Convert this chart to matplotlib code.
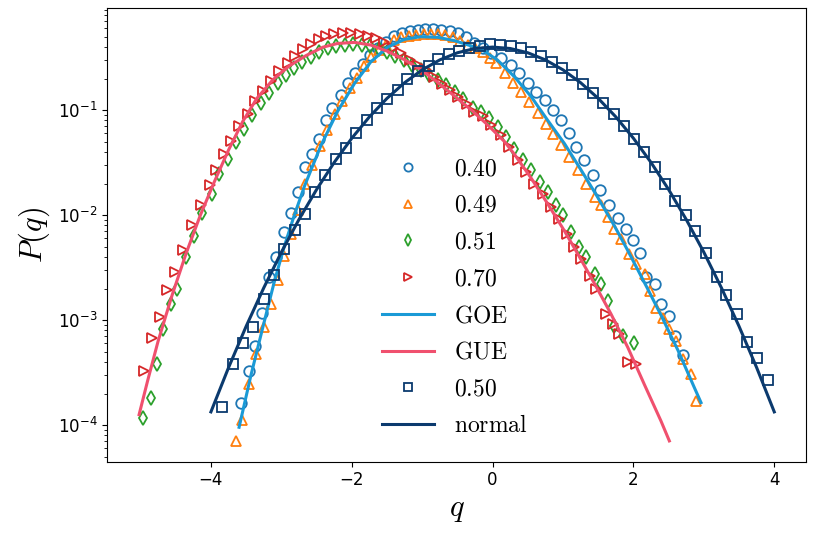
import matplotlib.pyplot as plt

# data points
circ_q = [-3.57, -3.46, -3.37, -3.27, -3.18, -3.08, -2.96, -2.86, -2.76, -2.66,
          -2.57, -2.47, -2.37, -2.28, -2.15, -2.06, -1.95, -1.84, -1.74, -1.63,
          -1.51, -1.40, -1.29, -1.18, -1.06, -0.96, -0.85, -0.73, -0.61, -0.49,
          -0.38, -0.26, -0.14, -0.02, 0.12, 0.26, 0.38, 0.50, 0.62, 0.74,
          0.86, 0.97, 1.08, 1.19, 1.30, 1.42, 1.53, 1.66, 1.78, 1.89,
          2.00, 2.09, 2.18, 2.30, 2.39, 2.50, 2.59, 2.70]
circ_p = [1.64e-4, 3.29e-4, 5.7e-4, 1.16e-3, 2.6e-3, 3.97e-3, 6.9e-3, 1.05e-2, 1.66e-2, 2.88e-2,
          3.85e-2, 5.37e-2, 8.0e-2, 0.104, 0.139, 0.18, 0.224, 0.275, 0.335, 0.389,
          0.449, 0.509, 0.547, 0.565, 0.58, 0.592, 0.594, 0.585, 0.57, 0.54,
          0.494, 0.44, 0.389, 0.348, 0.312, 0.269, 0.224, 0.18, 0.150, 0.125,
          0.10, 0.080, 0.060, 0.0447, 0.0333, 0.0239, 0.0172, 0.0124, 9.5e-3, 7.4e-3,
          5.8e-3, 4.4e-3, 2.6e-3, 2.2e-3, 1.43e-3, 1.1e-3, 7.1e-4, 4.7e-4]

tri_q = [-3.64, -3.56, -3.46, -3.36, -3.24, -3.15, -3.05, -2.96, -2.86, -2.77,
         -2.66, -2.56, -2.45, -2.35, -2.24, -2.14, -2.03, -1.93, -1.82, -1.72,
         -1.61, -1.51, -1.40, -1.30, -1.19, -1.09, -0.98, -0.88, -0.77, -0.67,
         -0.56, -0.46, -0.35, -0.25, -0.14, -0.04, 0.05, 0.17, 0.29, 0.41,
         0.52, 0.64, 0.76, 0.86, 0.97, 1.09, 1.21, 1.33, 1.45, 1.54,
         1.64, 1.73, 1.83, 1.94, 2.04, 2.16, 2.23, 2.32, 2.42, 2.51,
         2.61, 2.70, 2.82, 2.89]
tri_p = [7.05e-5, 1.11e-4, 2.48e-4, 4.74e-4, 8.65e-4, 1.43e-3, 2.4e-3, 4.04e-3, 6.64e-3, 1.11e-2,
         0.020, 0.030, 0.0457, 0.0646, 0.0912, 0.123, 0.162, 0.204, 0.263, 0.324,
         0.372, 0.417, 0.462, 0.495, 0.513, 0.525, 0.531, 0.535, 0.531, 0.519,
         0.495, 0.457, 0.422, 0.389, 0.359, 0.316, 0.279, 0.224, 0.18, 0.150,
         0.120, 0.0933, 0.0746, 0.0598, 0.0463, 0.0358, 0.0267, 0.020, 0.0149, 0.0124,
         9.55e-3, 7.41e-3, 5.94e-3, 4.27e-3, 3.44e-3, 2.75e-3, 1.9e-3, 1.32e-3, 1.06e-3, 8.2e-4,
         6.4e-4, 4.27e-4, 3.05e-4, 1.7e-4]

dia_q = [-4.96, -4.85, -4.77, -4.68, -4.57, -4.48, -4.36, -4.24, -4.12, -3.99,
         -3.88, -3.76, -3.64, -3.53, -3.41, -3.29, -3.17, -3.05, -2.93, -2.82,
         -2.70, -2.58, -2.46, -2.34, -2.22, -2.10, -1.98, -1.86, -1.74, -1.62,
         -1.50, -1.38, -1.26, -1.14, -1.02, -0.90, -0.78, -0.66, -0.54, -0.42,
         -0.28, -0.16, -0.05, 0.07, 0.19, 0.31, 0.43, 0.55, 0.67, 0.78,
         0.90, 1.00, 1.12, 1.23, 1.33, 1.45, 1.54, 1.64, 1.73, 1.85,
         2.01]
dia_p = [1.16e-4, 1.82e-4, 3.8e-4, 8.2e-4, 1.43e-3, 2.0e-3, 3.98e-3, 6.3e-3, 0.0105, 0.016,
         0.0248, 0.0345, 0.0498, 0.0668, 0.0895, 0.116, 0.146, 0.18, 0.216, 0.25,
         0.289, 0.323, 0.361, 0.389, 0.412, 0.422, 0.425, 0.419, 0.405, 0.382,
         0.361, 0.328, 0.301, 0.269, 0.241, 0.216, 0.194, 0.174, 0.150, 0.129,
         0.106, 0.0955, 0.0841, 0.0692, 0.0556, 0.0431, 0.0333, 0.0267, 0.0207, 0.0166,
         0.0124, 9.93e-3, 6.92e-3, 5.0e-3, 3.98e-3, 2.75e-3, 2.21e-3, 1.53e-3, 8.85e-4, 7.08e-4,
         6.03e-4]

rtri_q = [-4.95, -4.83, -4.72, -4.62, -4.51, -4.39, -4.27, -4.14, -4.02, -3.93,
          -3.82, -3.71, -3.60, -3.48, -3.37, -3.26, -3.15, -3.03, -2.91, -2.80,
          -2.69, -2.58, -2.47, -2.37, -2.25, -2.13, -2.01, -1.89, -1.77, -1.66,
          -1.54, -1.42, -1.30, -1.18, -1.06, -0.95, -0.83, -0.72, -0.60, -0.49,
          -0.37, -0.26, -0.14, -0.02, 0.12, 0.24, 0.36, 0.48, 0.59, 0.71,
          0.83, 0.95, 1.06, 1.16, 1.26, 1.38, 1.47, 1.61, 1.71, 1.80,
          1.92, 2.04]
rtri_p = [3.29e-4, 6.75e-4, 1.08e-3, 1.94e-3, 2.86e-3, 4.68e-3, 8.09e-3, 0.0126, 0.0192, 0.0272,
          0.0385, 0.0513, 0.0703, 0.0912, 0.123, 0.153, 0.191, 0.234, 0.282, 0.331,
          0.380, 0.427, 0.473, 0.513, 0.535, 0.543, 0.540, 0.531, 0.513, 0.483,
          0.447, 0.389, 0.348, 0.301, 0.269, 0.241, 0.208, 0.178, 0.155, 0.134,
          0.1135, 0.0964, 0.0871, 0.0724, 0.0577, 0.0447, 0.0333, 0.0258, 0.020, 0.016,
          0.0119, 9.2e-3, 6.6e-3, 4.95e-3, 3.84e-3, 2.65e-3, 1.98e-3, 1.14e-3, 9.1e-4, 7.36e-4,
          3.98e-4, 3.8e-4]

sq_q = [-3.84, -3.69, -3.55, -3.40, -3.25, -3.11, -2.96, -2.81, -2.67, -2.52,
        -2.38, -2.23, -2.08, -1.94, -1.79, -1.64, -1.50, -1.35, -1.21, -1.06,
        -0.91, -0.77, -0.62, -0.48, -0.33, -0.18, -0.04, 0.11, 0.26, 0.40,
        0.55, 0.69, 0.84, 0.99, 1.13, 1.28, 1.42, 1.57, 1.72, 1.86,
        2.01, 2.15, 2.30, 2.45, 2.59, 2.74, 2.88, 3.03, 3.18, 3.32,
        3.47, 3.61, 3.76, 3.91]
sq_p = [1.5e-4, 3.8e-4, 6.1e-4, 8.7e-4, 1.58e-3, 2.7e-3, 4.8e-3, 7.3e-3, 1.03e-2, 1.66e-2,
        2.4e-2, 3.4e-2, 4.4e-2, 6.0e-2, 8.1e-2, 0.106, 0.127, 0.155, 0.196, 0.237,
        0.263, 0.305, 0.343, 0.368, 0.395, 0.41, 0.425, 0.42, 0.41, 0.39,
        0.36, 0.325, 0.29, 0.25, 0.215, 0.178, 0.147, 0.117, 0.092, 0.071,
        0.053, 0.040, 0.0285, 0.0199, 0.0137, 0.0100, 7.1e-3, 4.4e-3, 2.6e-3, 1.74e-3,
        1.15e-3, 6.2e-4, 4.4e-4, 2.7e-4]

# reference curves
goe_q = [-3.60, -3.43, -3.26, -3.10, -2.96, -2.82, -2.67, -2.44, -2.20, -1.96,
         -1.73, -1.49, -1.25, -1.02, -0.78, -0.54, -0.30, -0.16, 0.07, 0.31,
         0.55, 0.78, 1.02, 1.26, 1.49, 1.73, 1.92, 2.20, 2.39, 2.63,
         2.87, 2.96]
goe_p = [9.55e-5, 3.02e-4, 8.7e-4, 2.32e-3, 5.0e-3, 9.8e-3, 0.019, 0.0457, 0.0977, 0.18,
         0.288, 0.398, 0.473, 0.501, 0.494, 0.459, 0.408, 0.38, 0.30, 0.208,
         0.134, 0.0804, 0.0481, 0.0267, 0.0149, 7.9e-3, 4.6e-3, 2.0e-3, 1.12e-3, 5.2e-4,
         2.24e-4, 1.64e-4]

gue_q = [-5.02, -4.90, -4.75, -4.55, -4.35, -4.15, -3.95, -3.75, -3.55, -3.35,
         -3.12, -2.89, -2.65, -2.41, -2.20, -1.96, -1.73, -1.49, -1.25, -1.02,
         -0.78, -0.54, -0.30, -0.07, 0.17, 0.31, 0.55, 0.78, 1.02, 1.21,
         1.45, 1.68, 1.92, 2.16, 2.39, 2.51]
gue_p = [1.26e-4, 2.63e-4, 6.31e-4, 1.74e-3, 4.37e-3, 0.010, 0.0209, 0.0417, 0.0776, 0.129,
         0.195, 0.263, 0.331, 0.398, 0.432, 0.442, 0.417, 0.363, 0.302, 0.243,
         0.184, 0.136, 0.100, 0.0724, 0.0501, 0.038, 0.0224, 0.0129, 7.08e-3, 4.27e-3,
         2.21e-3, 1.15e-3, 5.5e-4, 2.4e-4, 1.1e-4, 7.08e-5]

norm_q = [-4.0, -3.75, -3.5, -3.25, -3.0, -2.75, -2.5, -2.25, -2.0, -1.75,
          -1.5, -1.25, -1.0, -0.75, -0.5, -0.25, 0.0, 0.25, 0.5, 0.75,
          1.0, 1.25, 1.5, 1.75, 2.0, 2.25, 2.5, 2.75, 3.0, 3.25,
          3.5, 3.75, 4.0]
norm_p = [1.338e-4, 3.53e-4, 8.73e-4, 2.029e-3, 4.432e-3, 9.09e-3, 0.01753, 0.03174, 0.0540, 0.0863,
          0.1295, 0.1826, 0.2420, 0.3011, 0.3521, 0.3867, 0.3989, 0.3867, 0.3521, 0.3011,
          0.2420, 0.1826, 0.1295, 0.0863, 0.0540, 0.03174, 0.01753, 9.09e-3, 4.432e-3, 2.029e-3,
          8.73e-4, 3.53e-4, 1.338e-4]

fig = plt.figure(figsize=(8.15, 5.43), dpi=100)
ax = fig.add_axes([0.1317, 0.1497, 0.8573, 0.835])

mk = dict(linestyle='none', markerfacecolor='none', markersize=7.6, markeredgewidth=1.3)
ax.plot(circ_q, circ_p, marker='o', color='#1f77b4', label=r'$\mathrm{0.40}$', **mk)
ax.plot(tri_q, tri_p, marker='^', color='#ff7f0e', label=r'$\mathrm{0.49}$', **mk)
ax.plot(dia_q, dia_p, marker='d', color='#2ca02c', label=r'$\mathrm{0.51}$', **mk)
ax.plot(rtri_q, rtri_p, marker='>', color='#d62728', label=r'$\mathrm{0.70}$', **mk)
ax.plot(goe_q, goe_p, color='#1a9ad6', lw=2.2, label=r'$\mathrm{GOE}$')
ax.plot(gue_q, gue_p, color='#f0506e', lw=2.2, label=r'$\mathrm{GUE}$')
ax.plot(sq_q, sq_p, marker='s', color='#0b3a6e', label=r'$\mathrm{0.50}$', **mk)
ax.plot(norm_q, norm_p, color='#0b3a6e', lw=2.2, label=r'$\mathrm{normal}$')

ax.set_yscale('log')
ax.set_xticks([-4, -2, 0, 2, 4])
ax.tick_params(labelsize=12)
ax.set_xlabel(r'$q$', fontsize=22, math_fontfamily='cm')
ax.set_ylabel(r'$P(q)$', fontsize=22, math_fontfamily='cm')

ax.legend(loc='upper left', bbox_to_anchor=(0.38, 0.695), borderaxespad=0,
          frameon=False, markerscale=0.78, handlelength=2.2, handletextpad=0.85,
          labelspacing=0.54, prop={'size': 17, 'math_fontfamily': 'cm'})

fig.savefig('out.png', dpi=100)
